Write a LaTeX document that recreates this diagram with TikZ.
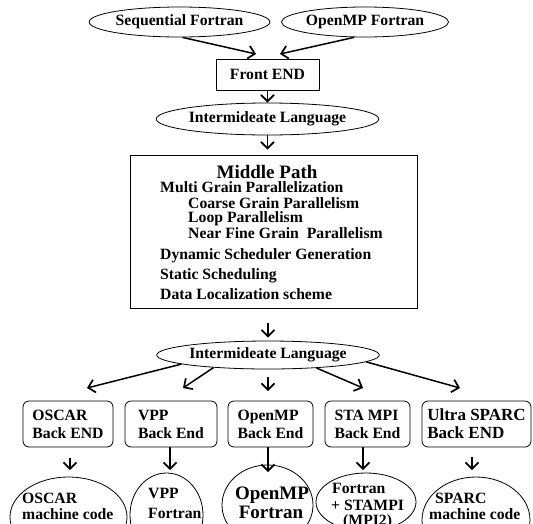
\documentclass[tikz,border=0pt]{standalone}
\usepackage{fontspec}
\setmainfont{Liberation Serif}
\usepackage{tikz}
\usetikzlibrary{shapes.geometric}
\usetikzlibrary{arrows.meta}
\newcommand{\bodyfont}{\fontsize{15.7}{18}\selectfont\bfseries}
\newcommand{\headfont}{\fontsize{19}{20}\selectfont\bfseries}
\newcommand{\ultrafont}{\fontsize{17}{18}\selectfont\bfseries}
\tikzset{
    srcnode/.style={ellipse, draw, line width=0.8pt, inner sep=0pt, font=\bodyfont},
    stagebox/.style={rectangle, draw, line width=0.8pt, inner sep=0pt, font=\bodyfont},
    backbox/.style={rectangle, rounded corners=6pt, draw, line width=0.8pt, inner sep=0pt,
                    minimum height=46pt, align=left, font=\bodyfont},
    codenode/.style={ellipse, draw, line width=0.8pt, inner sep=0pt},
    textline/.style={anchor=base west, inner sep=0pt, font=\bodyfont},
    flow/.style={line width=1.5pt, -{Straight Barb[length=6.5pt,width=13pt,line width=1.7pt]}}
}

\begin{document}
\begin{tikzpicture}[x=1pt, y=-1pt]
            \clip (0,0) rectangle (533,523);
            % Front part
            \node[srcnode, minimum width=155pt, minimum height=30pt] (seqf) at (179.5, 22) {Sequential Fortran};
            \node[srcnode, minimum width=154pt, minimum height=30pt] (ompf) at (365.0, 22) {OpenMP Fortran};
            \node[stagebox, minimum width=103pt, minimum height=31pt] (front) at (267.5, 74.5) {Front END};
            \node[srcnode, minimum width=195pt, minimum height=32pt] (ila) at (267.5, 119) {Intermideate Language};
            \coordinate (fl) at (256, 54);
            \coordinate (fr) at (280, 54);
            \draw[flow] ([xshift=3pt]seqf.south) -- (fl);
            \draw[flow] ([xshift=-11pt]ompf.south) -- (fr);
            \draw[flow] (front.south) -- (ila.north);
            % Middle path
            \node[stagebox, minimum width=287pt, minimum height=153pt] (middle) at (273.5, 231.5) {};
            \draw[flow, shorten >=5pt] (ila.south) -- (ila.south |- middle.north);
            \node[anchor=base, inner sep=0pt, font=\headfont] (mtitle) at (267, 178) {Middle Path};
            \node[textline] (mgp)  at (160, 192) {Multi Grain Parallelization};
            \node[textline] (cgp)  at (188, 208) {Coarse Grain Parallelism};
            \node[textline] (lp)   at (188, 222) {Loop Parallelism};
            \node[textline] (nfgp) at (188, 238) {Near Fine Grain\ \ Parallelism};
            \node[textline] (dsg)  at (160, 259) {Dynamic Scheduler Generation};
            \node[textline] (ss)   at (160, 279) {Static Scheduling};
            \node[textline] (dls)  at (160, 299) {Data Localization scheme};
            % Back part
            \node[srcnode, minimum width=197pt, minimum height=28pt] (ilb) at (268, 355) {Intermideate Language};
            \draw[flow, shorten <=15pt, shorten >=3pt] (ilb.north |- middle.south) -- (ilb.north);
            \node[backbox, minimum width=90pt]  (oscar) at (68.0, 424)  {OSCAR\\Back END};
            \node[backbox, minimum width=92pt]  (vpp)   at (171.0, 424) {VPP\\Back End};
            \node[backbox, minimum width=85pt]  (ompb)  at (270.5, 424) {OpenMP\\Back End};
            \node[backbox, minimum width=85pt]  (sta)   at (367.5, 424) {STA MPI\\Back End};
            \node[backbox, minimum width=109pt, font=\ultrafont] (ultra) at (476.5, 424) {Ultra SPARC\\Back END};
            \coordinate (t1) at (87, 388);
            \coordinate (t2) at (183, 388);
            \coordinate (t3) at (268, 391);
            \coordinate (t4) at (363, 388);
            \coordinate (t5) at (460, 388);
            \draw[flow] (ilb.186) -- (t1);
            \draw[flow] (ilb.193) -- (t2);
            \draw[flow, shorten <=8pt] (ilb.south) -- (t3);
            \draw[flow] (ilb.345) -- (t4);
            \draw[flow] (ilb.356) -- (t5);
            % Generated code
            \node[codenode, minimum width=117pt, minimum height=80pt] (oscarc) at (68.5, 517) {};
            \node[codenode, minimum width=73pt,  minimum height=84pt] (vppc)   at (166.5, 515) {};
            \node[codenode, minimum width=91pt,  minimum height=80pt] (ompc)   at (267.5, 505) {};
            \node[codenode, minimum width=100pt, minimum height=58pt] (stac)   at (366.0, 502) {};
            \node[codenode, minimum width=108pt, minimum height=86pt] (sparcc) at (476.0, 520) {};
            \node[textline] (oscarc1) at (22, 503)  {OSCAR};
            \node[textline] (oscarc2) at (22, 519)  {machine code};
            \node[textline] (vppc1)   at (148, 498) {VPP};
            \node[textline] (vppc2)   at (148, 518) {Fortran};
            \node[anchor=base, inner sep=0pt, font=\headfont] (ompc1) at (272, 499) {OpenMP};
            \node[anchor=base, inner sep=0pt, font=\headfont] (ompc2) at (271, 518) {Fortran};
            \node[textline] (stac1)   at (332, 493) {Fortran};
            \node[textline] (stac2)   at (331, 510) {+ STAMPI};
            \node[textline] (stac3)   at (343, 525) {(MPI2)};
            \node[textline] (sparcc1) at (435, 503) {SPARC};
            \node[textline] (sparcc2) at (429, 519) {machine code};
            \coordinate (b1) at (70, 470);
            \coordinate (b2) at (170, 470);
            \coordinate (b3) at (268, 472);
            \coordinate (b4) at (363, 470);
            \coordinate (b5) at (472, 470);
            \draw[flow, shorten <=11pt] (oscar.south -| b1) -- (b1);
            \draw[flow] (vpp.south -| b2) -- (b2);
            \draw[flow] (ompb.south -| b3) -- (b3);
            \draw[flow] (sta.south -| b4) -- (b4);
            \draw[flow, shorten <=10pt] (ultra.south -| b5) -- (b5);
        \end{tikzpicture}
\end{document}
